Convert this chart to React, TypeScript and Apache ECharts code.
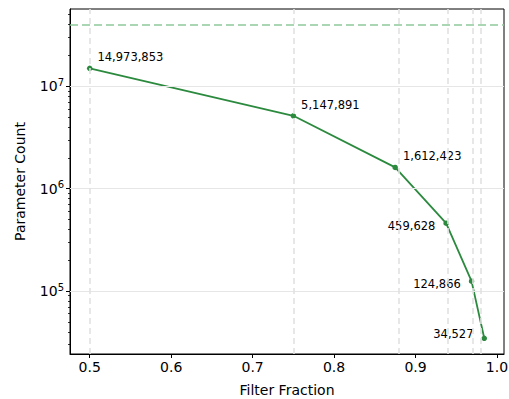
import React, { useEffect, useRef } from "react";
import * as echarts from "echarts";

const filterFractions = [0.5, 0.75, 0.875, 0.9375, 0.96875, 0.984375];
const paramCounts = [14973853, 5147891, 1612423, 459628, 124866, 34527];
const baselineCount = 40000000;
const xTickValues = [0.5, 0.6, 0.7, 0.8, 0.9, 1.0];
const yTickValues = [1e5, 1e6, 1e7];
const yMinorTickValues = [
  3e4, 4e4, 5e4, 6e4, 7e4, 8e4, 9e4,
  2e5, 3e5, 4e5, 5e5, 6e5, 7e5, 8e5, 9e5,
  2e6, 3e6, 4e6, 5e6, 6e6, 7e6, 8e6, 9e6,
  2e7, 3e7, 4e7, 5e7,
];
const labelSides = ["right", "right", "right", "left", "left", "left"];
const labelOffsets = [[0, -11], [0, -11], [0, -11], [0, 3], [0, 3], [0, -4]];

const X_MIN = 0.4758;
const X_MAX = 1.0086;
const Y_MIN = 24260;
const Y_MAX = 5.69e7;

const LINE_COLOR = "#2b8a3e";
const FONT = "DejaVu Sans";

export default function App() {
  const ref = useRef<HTMLDivElement>(null);
  useEffect(() => {
    document.body.style.margin = "0";
    if (!ref.current) return;
    const chart = echarts.init(ref.current, null, { renderer: "svg" });
    const fmt = (v: number) => v.toLocaleString("en-US");
    const data = filterFractions.map((x, i) => ({
      value: [x, paramCounts[i]],
      label: {
        show: true,
        position: labelSides[i],
        distance: labelSides[i] === "right" ? 5 : 8,
        offset: labelOffsets[i],
        formatter: () => fmt(paramCounts[i]),
        fontSize: 11.5,
        fontFamily: FONT,
        color: "#000",
      },
    }));
    chart.setOption({
      animation: false,
      textStyle: { fontFamily: FONT },
      grid: {
        left: 70,
        right: 5,
        top: 9,
        bottom: 45,
        containLabel: false,
        outerBoundsMode: "none",
        show: true,
        borderColor: "#000",
        borderWidth: 1,
        backgroundColor: "transparent",
      },
      xAxis: {
        type: "value",
        min: X_MIN,
        max: X_MAX,
        name: "Filter Fraction",
        nameLocation: "middle",
        nameGap: 29,
        nameTextStyle: { fontSize: 14, color: "#000", fontFamily: FONT },
        axisLine: { show: true, lineStyle: { color: "#000", width: 1 } },
        axisTick: { show: true, customValues: xTickValues, length: 4, lineStyle: { color: "#000" } },
        axisLabel: {
          customValues: xTickValues,
          formatter: (v: number) => v.toFixed(1),
          fontSize: 14,
          color: "#000",
          margin: 6,
          fontFamily: FONT,
        },
        splitLine: { show: false },
      },
      yAxis: [
        {
          type: "log",
          logBase: 10,
          min: Y_MIN,
          max: Y_MAX,
          name: "Parameter Count",
          nameLocation: "middle",
          nameGap: 43,
          nameTextStyle: { fontSize: 14, color: "#000", fontFamily: FONT },
          axisLine: { show: true, lineStyle: { color: "#000", width: 1 } },
          axisTick: { show: true, customValues: yTickValues, length: 4, lineStyle: { color: "#000" } },
          axisLabel: {
            customValues: yTickValues,
            formatter: (v: number) => "10{sup|" + Math.round(Math.log10(v)) + "}",
            fontSize: 14,
            color: "#000",
            margin: 6,
            fontFamily: FONT,
            rich: {
              sup: { fontSize: 10, verticalAlign: "bottom", padding: [0, 0, 8, 0], fontFamily: FONT, color: "#000" },
            },
          },
          splitLine: { show: false },
        },
        {
          type: "log",
          logBase: 10,
          min: Y_MIN,
          max: Y_MAX,
          position: "left",
          axisLine: { show: false },
          axisTick: { show: true, customValues: yMinorTickValues, length: 2, lineStyle: { color: "#000", width: 0.8 } },
          axisLabel: { show: false },
          splitLine: { show: false },
        },
      ],
      series: [
        {
          type: "line",
          data: [],
          z: 1,
          silent: true,
          markLine: {
            symbol: "none",
            silent: true,
            label: { show: false },
            data: [
              ...yTickValues.map((v) => ({ yAxis: v, lineStyle: { color: "#e6e6e6", width: 1, type: "solid" } })),
              ...filterFractions.map((v) => ({ xAxis: v, lineStyle: { color: "#e2e2e2", width: 1.6, type: [6, 4] } })),
              { yAxis: baselineCount, lineStyle: { color: "#8fc99a", width: 1.5, type: [8, 4] } },
            ],
          },
        },
        {
          type: "line",
          z: 3,
          data,
          symbol: "circle",
          symbolSize: 5.5,
          lineStyle: { color: LINE_COLOR, width: 1.8 },
          itemStyle: { color: LINE_COLOR },
        },
      ],
    });
    return () => chart.dispose();
  }, []);
  return <div ref={ref} style={{ width: 509, height: 399 }} />;
}
